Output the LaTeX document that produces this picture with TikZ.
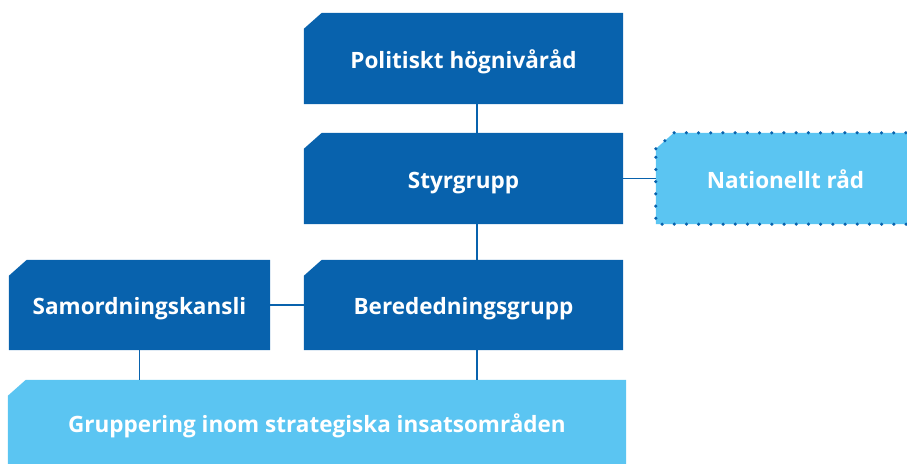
\documentclass[tikz,border=0pt]{standalone}
\usepackage{fontspec}
\setmainfont{Open Sans}
\usetikzlibrary{backgrounds}
\definecolor{dblue}{HTML}{0862AD}
\definecolor{lblue}{HTML}{5BC5F2}
\newcommand{\chamfbox}[2]{\path[#2] ([yshift=-16pt]#1.north west) -- ([xshift=18pt]#1.north west) -- (#1.north east) -- (#1.south east) -- (#1.south west) -- cycle;}
\tikzset{
  orgbox/.style={rectangle, inner sep=0pt, text=white, font=\fontsize{22.5}{27}\selectfont\bfseries, text height=19pt, text depth=0pt, align=center},
  conn/.style={draw=dblue, line width=1.3pt},
}
\begin{document}
\begin{tikzpicture}[x=1pt,y=-1pt]
\useasboundingbox (0,0) rectangle (907,463);
\clip (0,0) rectangle (907,463);
\node[orgbox, minimum width=319pt, minimum height=91pt] (pol) at (463.5,58.5) {Politiskt högnivåråd};
\node[orgbox, minimum width=319pt, minimum height=91pt] (sty) at (463.5,178.5) {Styrgrupp};
\node[orgbox, minimum width=259pt, minimum height=91pt] (nat) at (785.5,178.5) {Nationellt råd};
\node[orgbox, minimum width=261pt, minimum height=90pt] (sam) at (139.5,305) {Samordningskansli};
\node[orgbox, minimum width=319pt, minimum height=90pt] (ber) at (463.5,305) {Berededningsgrupp};
\node[orgbox, minimum width=618pt, minimum height=86pt] (grp) at (317,423) {Gruppering inom strategiska insatsområden};
\begin{scope}[on background layer]
\chamfbox{pol}{fill=dblue}
\chamfbox{sty}{fill=dblue}
\chamfbox{sam}{fill=dblue}
\chamfbox{ber}{fill=dblue}
\chamfbox{grp}{fill=lblue}
\chamfbox{nat}{fill=lblue}
\chamfbox{nat}{draw=dblue, line width=3.5pt, line cap=round, dash pattern=on 0pt off 12.2pt}
\draw[conn] ([xshift=13.5pt]pol.south) -- ([xshift=13.5pt]sty.north);
\draw[conn] ([xshift=13.5pt]sty.south) -- ([xshift=13.5pt]ber.north);
\draw[conn] (sty.east) -- (nat.west);
\draw[conn] (sam.east) -- (ber.west);
\draw[conn] (sam.south) -- (sam.south |- grp.north);
\draw[conn] ([xshift=13.5pt]ber.south) -- ([xshift=13.5pt]ber.south |- grp.north);
\end{scope}
\end{tikzpicture}
\end{document}
